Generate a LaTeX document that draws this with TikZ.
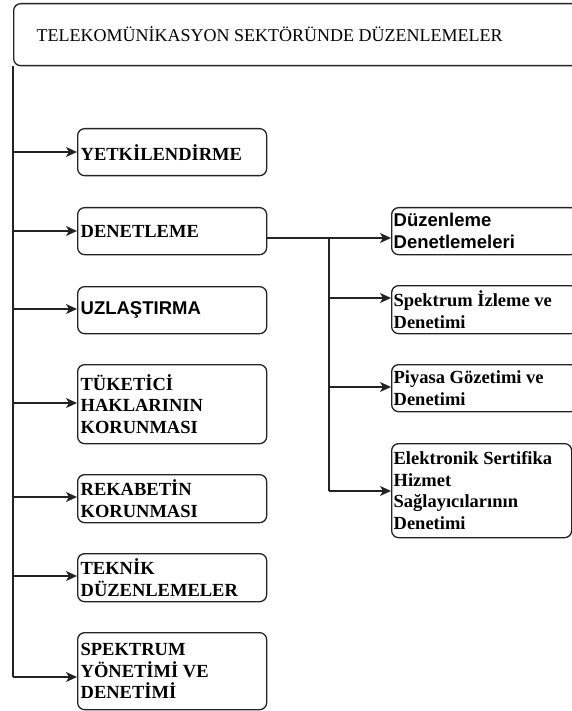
\documentclass[tikz,border=0pt]{standalone}
\usepackage{fontspec}
\setmainfont{Liberation Serif}
\setsansfont{Liberation Sans}
\usetikzlibrary{arrows.meta,positioning}
\definecolor{LineGrey}{RGB}{35,35,35}

\begin{document}
\begin{tikzpicture}[x=1pt,y=-1pt,>={Stealth[length=11pt,width=10pt,inset=3pt]},
  box/.style={draw=LineGrey,line width=1.3pt,rounded corners=7pt,anchor=north west,inner xsep=3pt,inner ysep=0pt,align=flush left,font=\fontsize{18.5}{21.7}\selectfont\bfseries},
  link/.style={draw=LineGrey,line width=1.4pt}]
\useasboundingbox (0,0) rectangle (572,711);
\node[box,font=\fontsize{18}{21.6}\selectfont,minimum height=62pt,text width=560pt,inner xsep=23pt] (title) at (13,3) {TELEKOMÜNİKASYON SEKTÖRÜNDE DÜZENLEMELER};
\draw[link] (title.south west) -- (13,677);
% left column
\foreach \n/\y/\h/\a/\t in {yet/128/47/152/{YETKİLENDİRME},den/207/47/231/{DENETLEME},uzl/286/47/309/{\sffamily UZLAŞTIRMA},
  tuk/364/79/403/{TÜKETİCİ\\HAKLARININ\\KORUNMASI},rek/474/48/497/{REKABETİN\\KORUNMASI},tek/553/48/576/{TEKNİK\\DÜZENLEMELER},
  spk/632/77/677/{SPEKTRUM\\YÖNETİMİ VE\\DENETİMİ}}{
\node[box,minimum height=\h pt,text width=183pt] (\n) at (77,\y) {\t};
\coordinate (a\n) at (13,\a);\draw[link,->] (a\n) -- (a\n -| \n.west);}
% right column
\foreach \n/\y/\h/\w/\a/\t in {dz/207/47/186/238/{\sffamily Düzenleme\\Denetlemeleri},siz/285/48/186/298/{Spektrum İzleme ve\\Denetimi},
  pya/364/47/186/387/{Piyasa Gözetimi ve\\Denetimi},elk/443/94/180/491/{Elektronik Sertifika\\Hizmet\\Sağlayıcılarının\\Denetimi}}{
\node[box,inner xsep=2pt,minimum height=\h pt,text width=\w pt-4pt] (\n) at (391,\y) {\t};
\coordinate (b\n) at (329,\a);\draw[link,->] (b\n) -- (b\n -| \n.west);}
\draw[link] (den.east |- bdz) -- (bdz) -- (belk);
\end{tikzpicture}
\end{document}
